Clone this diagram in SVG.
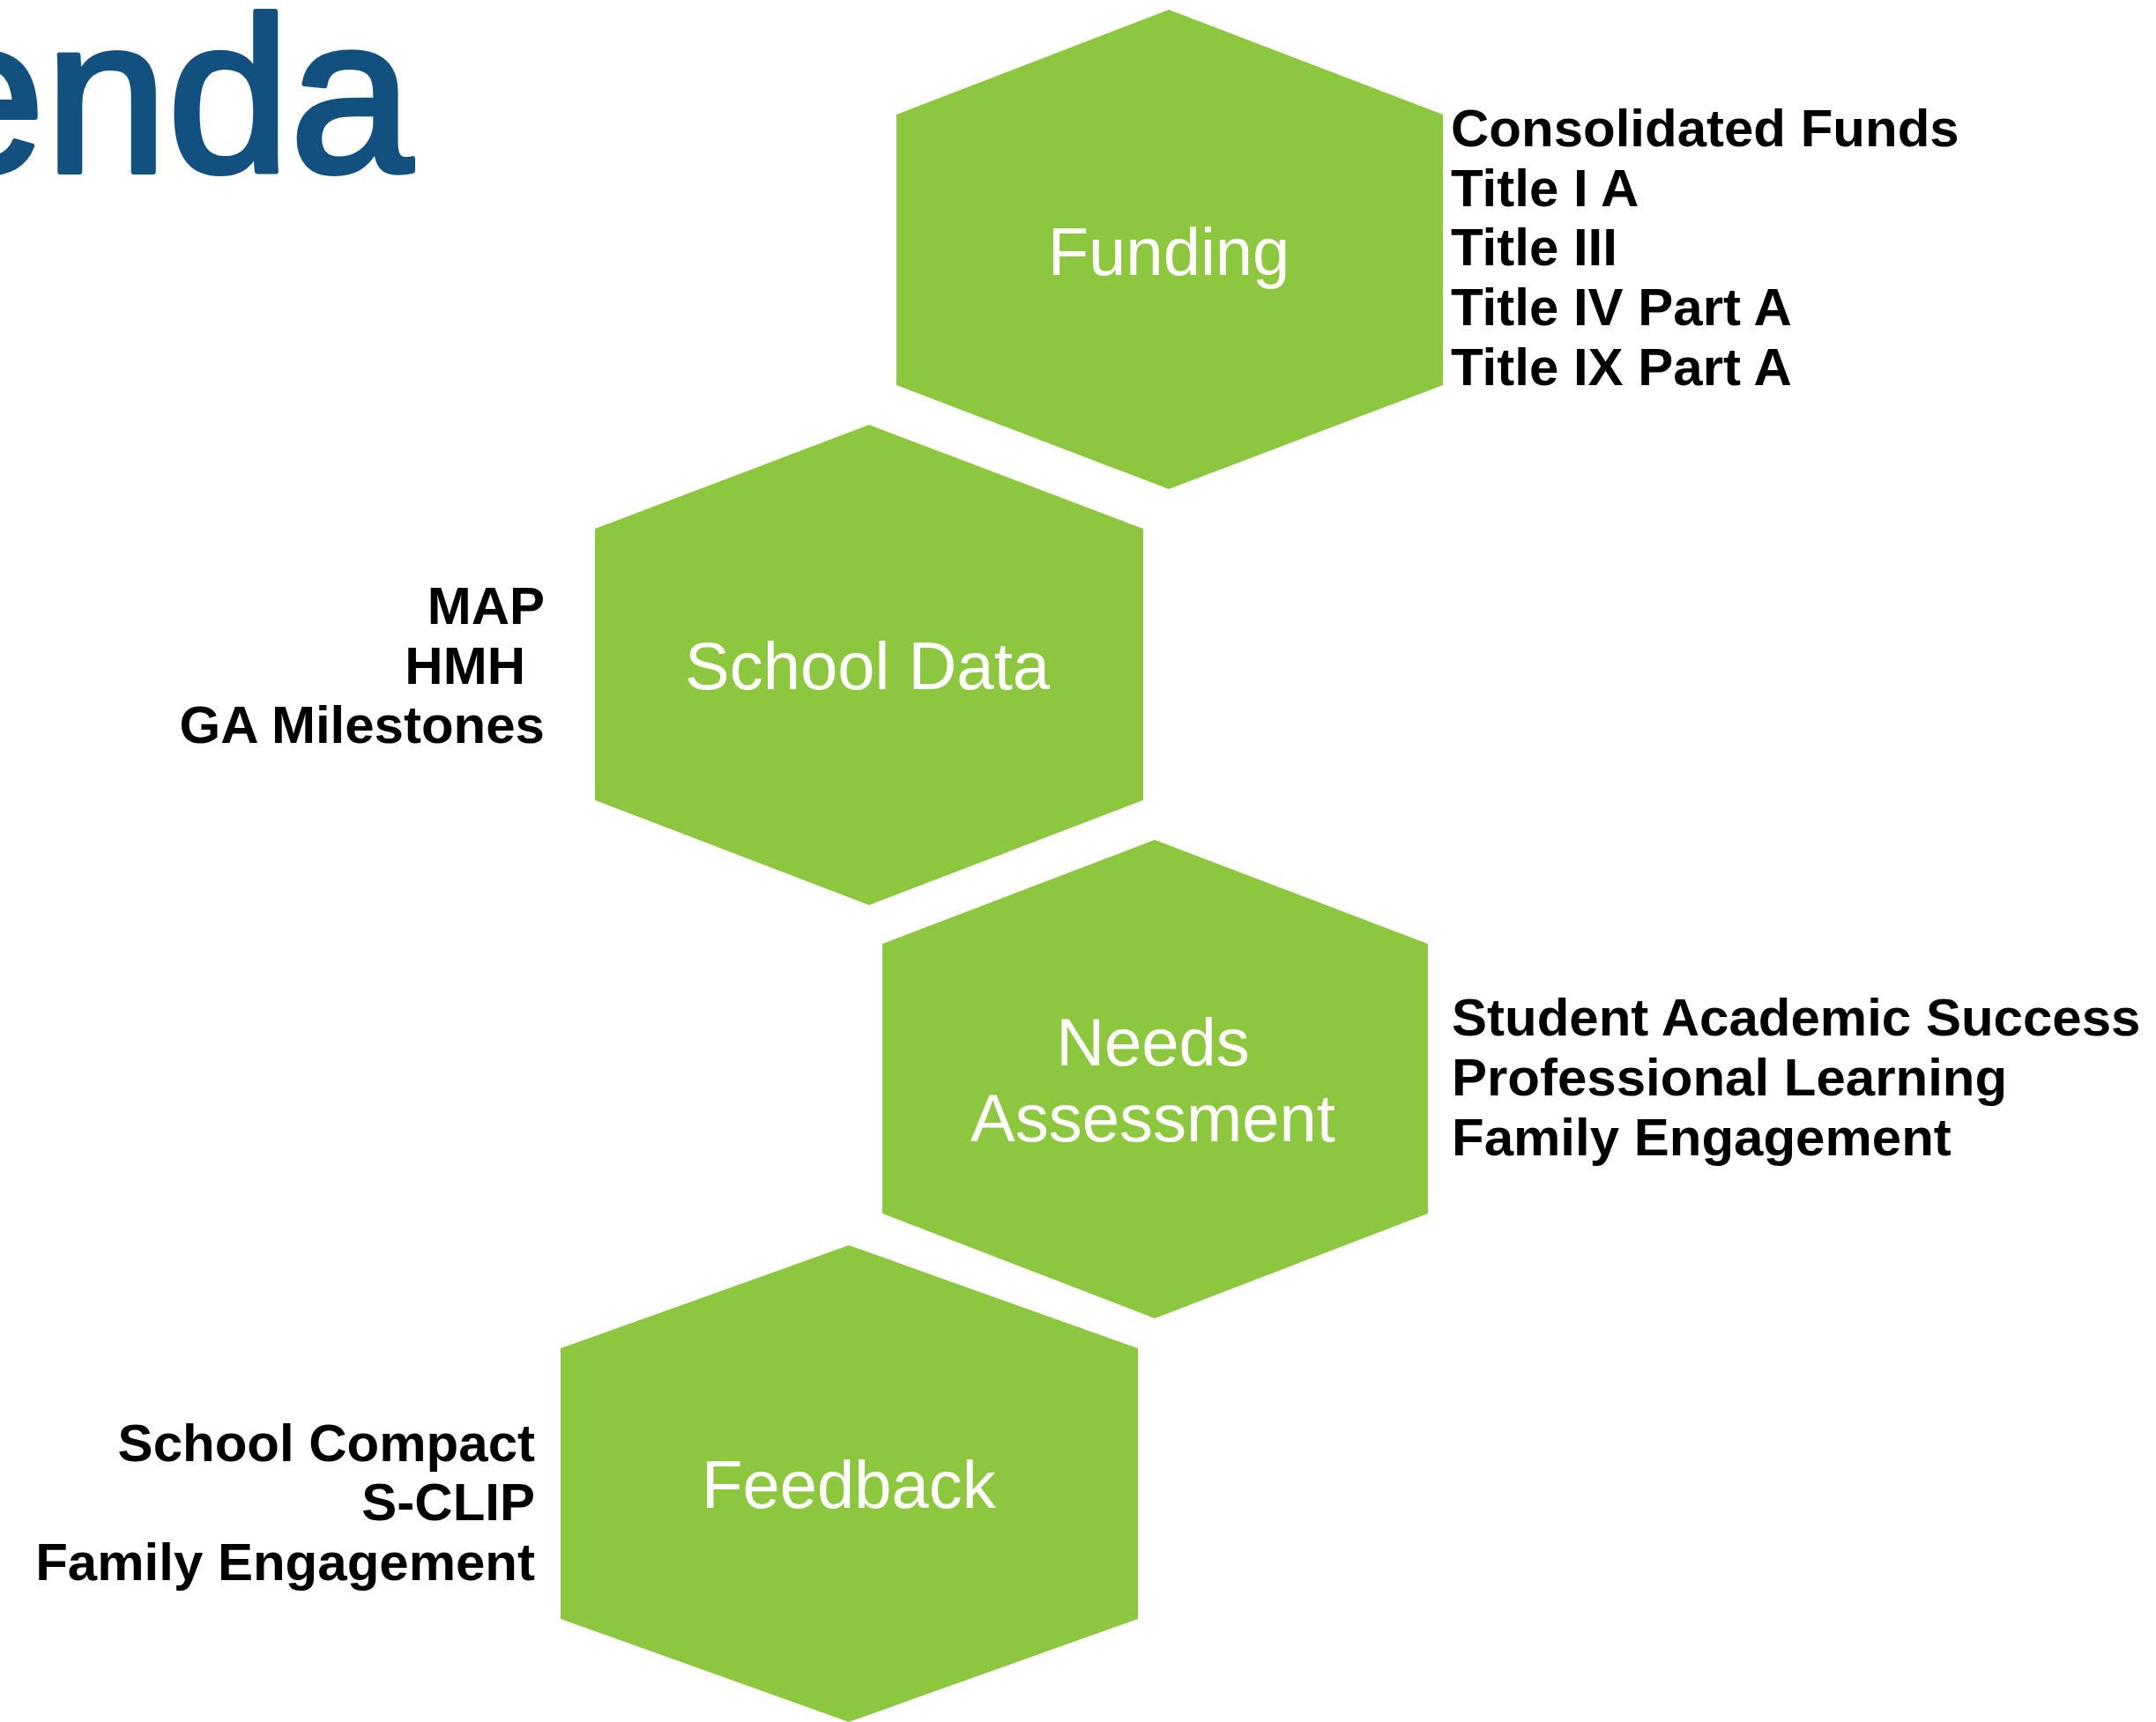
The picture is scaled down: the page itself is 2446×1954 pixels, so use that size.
<svg xmlns="http://www.w3.org/2000/svg" width="2446" height="1954" viewBox="0 0 2446 1954">
<style>
.hex{fill:#8DC63F}
.lbl{font-family:"Liberation Sans",Arial,sans-serif;font-size:76px;fill:#FFFFFF;text-anchor:middle}
.item{font-family:"Liberation Sans",Arial,sans-serif;font-size:60px;font-weight:bold;fill:#000000}
.r{text-anchor:end}
.title{font-family:"Liberation Sans",Arial,sans-serif;font-size:250px;fill:#12517F;stroke:#12517F;stroke-width:6;stroke-linejoin:round;text-anchor:end}
</style>
<rect width="2446" height="1954" fill="#FFFFFF"/>
<g id="title"><text class="title" x="468" y="195">enda</text></g>
<g id="funding">
<polygon class="hex" points="1326,11 1637,130 1637,437 1326,555 1017,437 1017,130"/>
<text class="lbl" x="1326" y="312">Funding</text>
<text class="item" x="1646" y="166">Consolidated Funds</text>
<text class="item" x="1646" y="234">Title I A</text>
<text class="item" x="1646" y="301">Title III</text>
<text class="item" x="1646" y="369">Title IV Part A</text>
<text class="item" x="1646" y="437">Title IX Part A</text>
</g>
<g id="school-data">
<polygon class="hex" points="986,482 1297,600 1297,908 986,1027 675,908 675,600"/>
<text class="lbl" x="984" y="782">School Data</text>
<text class="item r" x="618" y="708">MAP</text>
<text class="item r" x="596" y="776">HMH</text>
<text class="item r" x="618" y="843">GA Milestones</text>
</g>
<g id="needs-assessment">
<polygon class="hex" points="1310,953 1620,1071 1620,1377 1310,1496 1001,1377 1001,1071"/>
<text class="lbl" x="1308" y="1209">Needs</text>
<text class="lbl" x="1308" y="1295">Assessment</text>
<text class="item" x="1647" y="1175">Student Academic Success</text>
<text class="item" x="1647" y="1243">Professional Learning</text>
<text class="item" x="1647" y="1311">Family Engagement</text>
</g>
<g id="feedback">
<polygon class="hex" points="963,1413 1291,1530 1291,1837 963,1954 636,1837 636,1530"/>
<text class="lbl" x="963" y="1711">Feedback</text>
<text class="item r" x="607" y="1658">School Compact</text>
<text class="item r" x="607" y="1725">S-CLIP</text>
<text class="item r" x="607" y="1793">Family Engagement</text>
</g>
</svg>
